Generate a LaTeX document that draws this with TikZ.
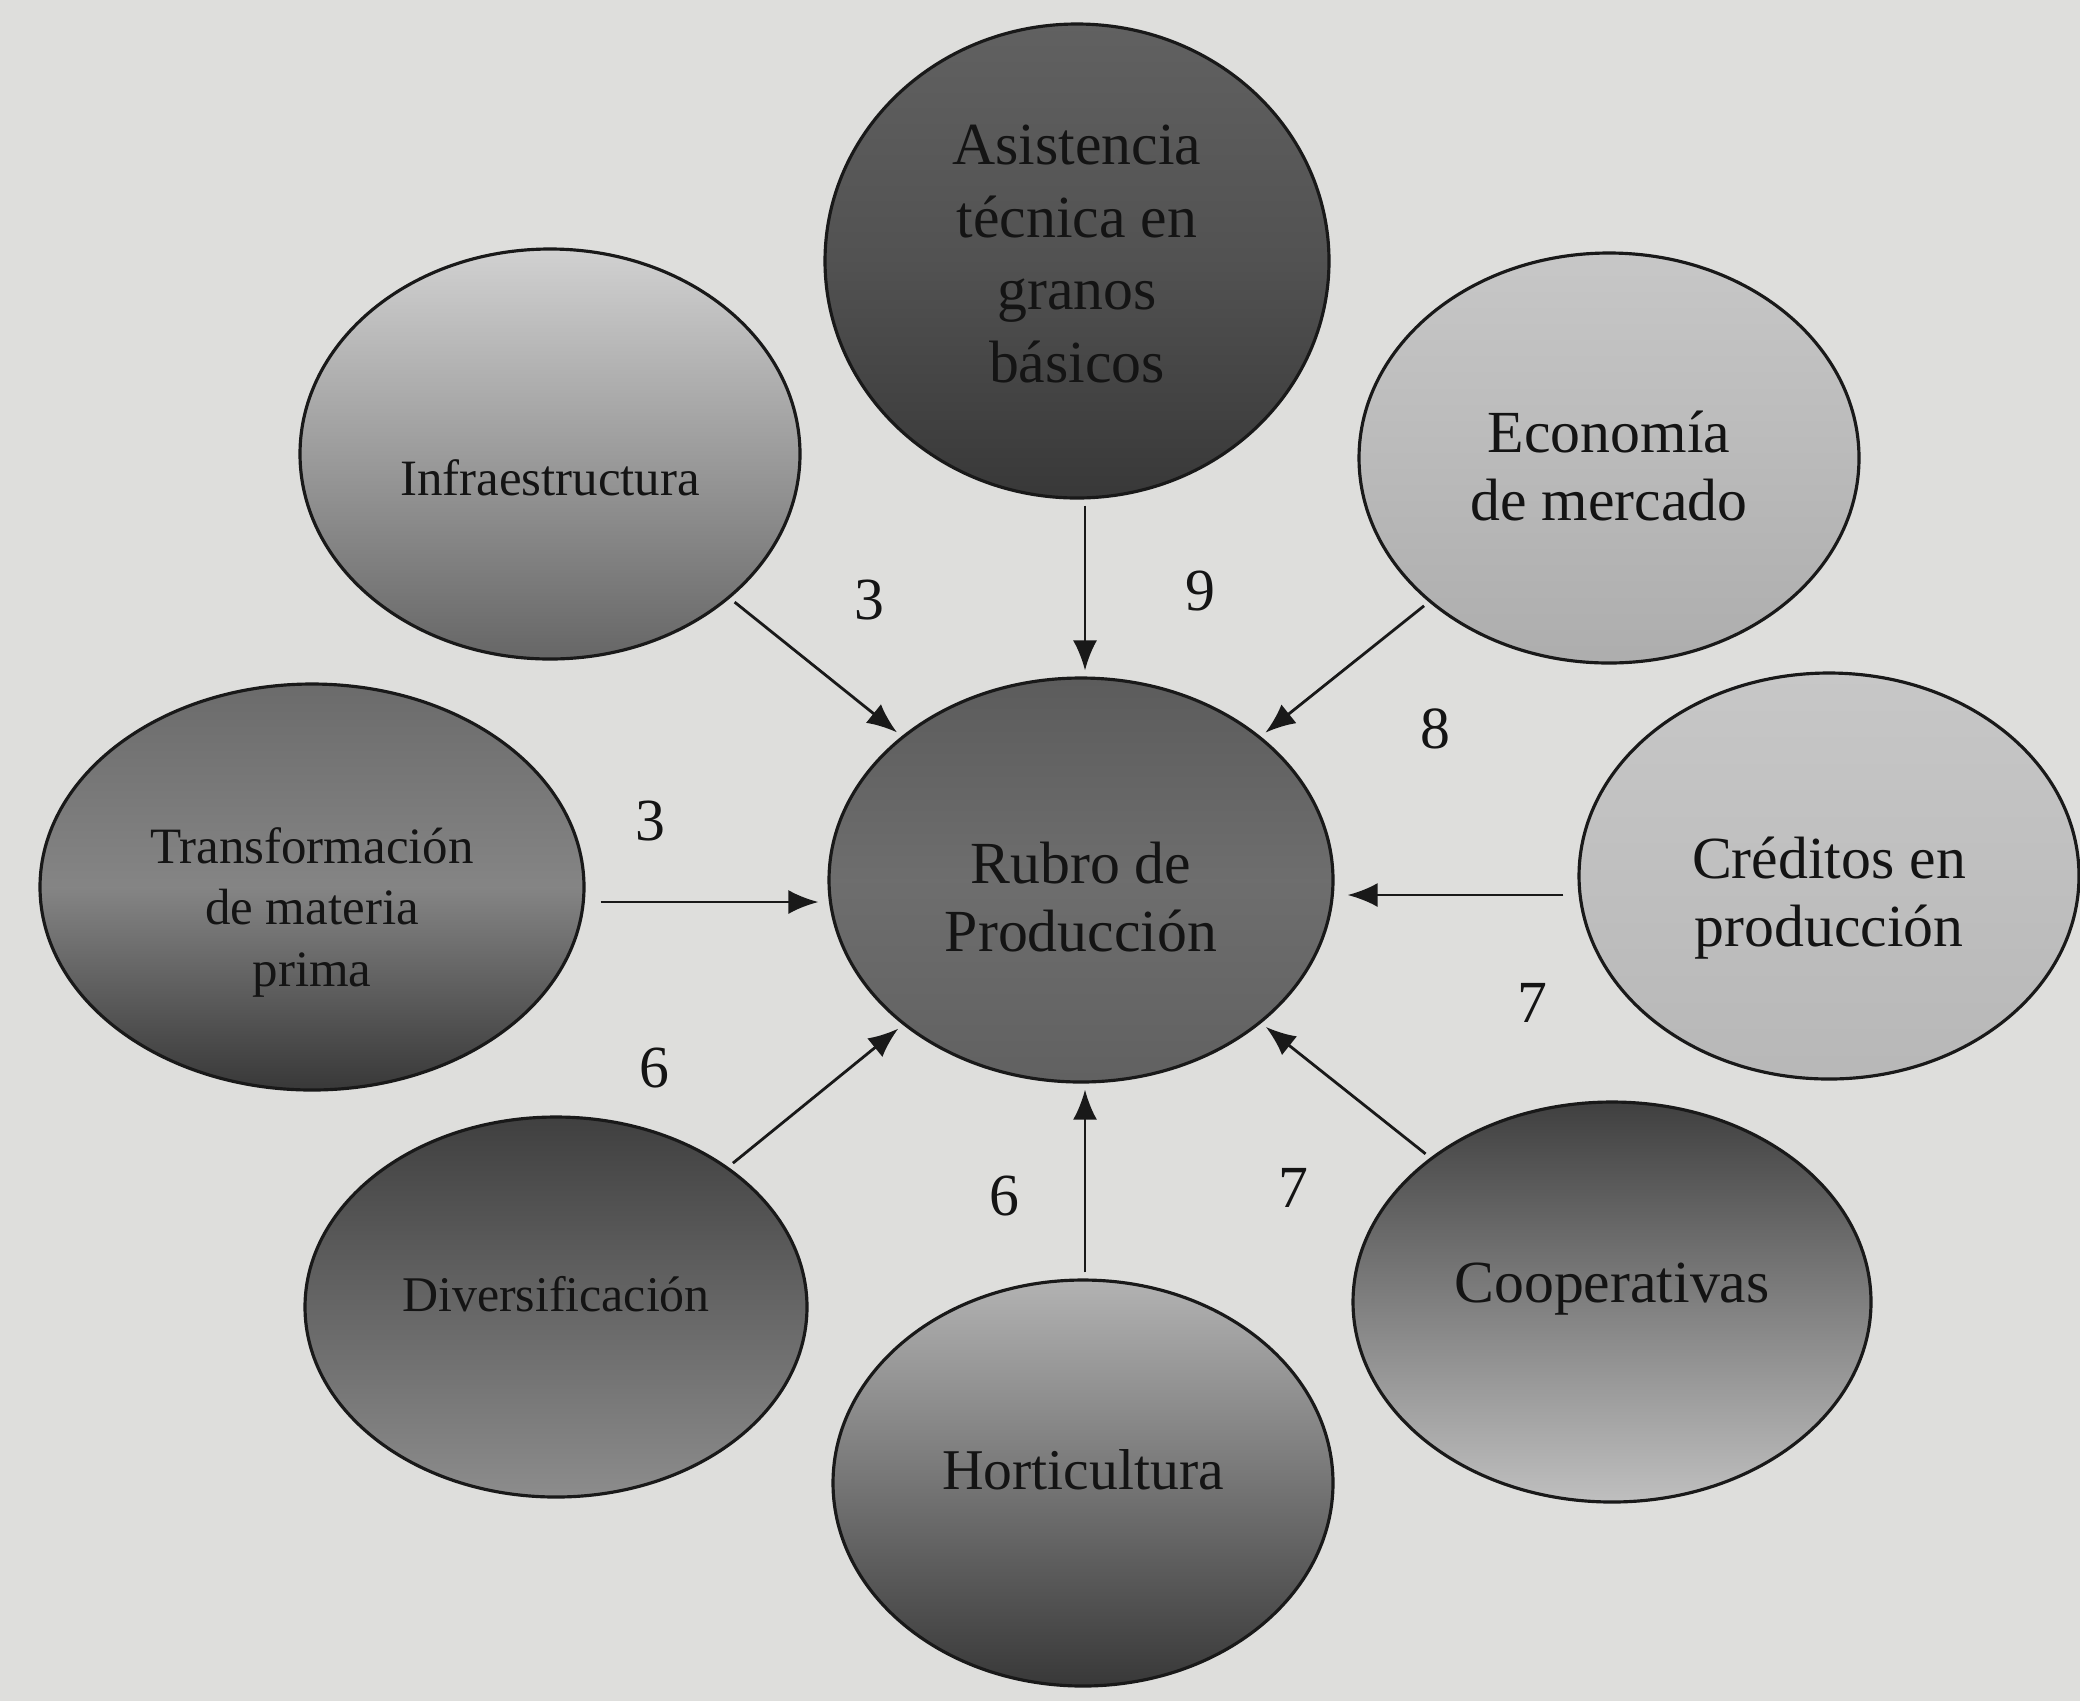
\documentclass[tikz,border=0pt]{standalone}
\usepackage{fontspec}
\setmainfont{Liberation Serif}
\usetikzlibrary{shapes.geometric,arrows.meta}

\definecolor{paper}{RGB}{222,222,220}
\newcommand{\bigtxt}{\fontsize{17}{19.5}\selectfont}
\newcommand{\smalltxt}{\fontsize{14.5}{17.5}\selectfont}

\begin{document}
\begin{tikzpicture}[x=0.1mm,y=-0.1mm,>={Latex[length=3mm,width=2.4mm]},
  every node/.style={font=\bigtxt,text=black!92},
  bubble/.style={ellipse,draw=black!90,line width=0.9pt,inner sep=0pt},
  txt/.style={align=center,inner sep=0pt},
  arr/.style={->,draw=black!90,line width=0.8pt,shorten >=0.6mm,shorten <=0.6mm}]
  \fill[paper] (0,0) rectangle (2080,1701);
  \useasboundingbox (0,0) rectangle (2080,1701);

  % centre
  \node (rubro) [bubble,minimum width=50.4mm,minimum height=40.4mm,
    top color=black!64,bottom color=black!62,middle color=black!57] at (1081,880) {};

  % outer ring
  \node (asist) [bubble,minimum width=50.4mm,minimum height=47.4mm,
    top color=black!62,bottom color=black!78,middle color=black!68] at (1077,261) {};
  \node (infra) [bubble,minimum width=50mm,minimum height=41mm,
    top color=black!18,bottom color=black!60] at (550,454) {};
  \node (econ) [bubble,minimum width=50mm,minimum height=41mm,
    top color=black!22,bottom color=black!32] at (1609,458) {};
  \node (transf) [bubble,minimum width=54.4mm,minimum height=40.6mm,
    top color=black!58,bottom color=black!78,middle color=black!48] at (312,887) {};
  \node (cred) [bubble,minimum width=50mm,minimum height=40.6mm,
    top color=black!22,bottom color=black!28] at (1829,876) {};
  \node (divers) [bubble,minimum width=50.2mm,minimum height=38mm,
    top color=black!75,bottom color=black!45] at (556,1307) {};
  \node (hort) [bubble,minimum width=50mm,minimum height=40.6mm,
    top color=black!30,bottom color=black!78] at (1083,1483) {};
  \node (coop) [bubble,minimum width=51.8mm,minimum height=40mm,
    top color=black!75,bottom color=black!25] at (1612,1302) {};

  % texts
  \node (rubroT) [txt] at ([yshift=-1.7mm]rubro.center) {Rubro de\\Producción};
  \node (asistT) [txt,font=\fontsize{17}{20.7}\selectfont] at ([yshift=0.7mm]asist.center)
    {Asistencia\\técnica en\\granos\\básicos};
  \node (infraT) [txt,font=\smalltxt] at ([yshift=-2.4mm]infra.center) {Infraestructura};
  \node (econT) [txt] at ([yshift=-0.8mm]econ.center) {Economía\\de mercado};
  \node (transfT) [txt,font=\smalltxt] at ([yshift=-2.5mm]transf.center)
    {Transformación\\de materia\\prima};
  \node (credT) [txt] at ([yshift=-2.2mm]cred.center) {Créditos en\\producción};
  \node (diversT) [txt,font=\fontsize{14.2}{17}\selectfont] at ([yshift=1.3mm]divers.center) {Diversificación};
  \node (hortT) [txt,font=\fontsize{16.4}{19}\selectfont] at ([yshift=1.3mm]hort.center) {Horticultura};
  \node (coopT) [txt] at ([yshift=1.3mm]coop.center) {Cooperativas};

  % connectors
  \draw[arr] ([xshift=0.4mm]rubro.north |- asist.south) -- ([xshift=0.4mm]rubro.north);
  \draw[arr] (infra) -- (rubro);
  \draw[arr] (econ) -- (rubro);
  \draw[arr,shorten <=1.5mm,shorten >=0.9mm] ([yshift=-1.5mm]transf.east) -- ([yshift=-1.5mm]rubro.west |- transf.east);
  \draw[arr,shorten <=1.4mm,shorten >=1.3mm] ([yshift=-1.9mm]cred.west) -- ([yshift=-1.9mm]rubro.east |- cred.west);
  \draw[arr] (divers) -- (rubro);
  \draw[arr] ([xshift=0.4mm]rubro.south |- hort.north) -- ([xshift=0.4mm]rubro.south);
  \draw[arr] (coop) -- (rubro);

  % weights
  \node (wInfra) at (869,600) {3};
  \node (wAsist) at (1200,591) {9};
  \node (wEcon) at (1435,729) {8};
  \node (wTransf) at (650,821) {3};
  \node (wCred) at (1532,1003) {7};
  \node (wDivers) at (654,1068) {6};
  \node (wHort) at (1004,1196) {6};
  \node (wCoop) at (1293,1188) {7};
\end{tikzpicture}
\end{document}
